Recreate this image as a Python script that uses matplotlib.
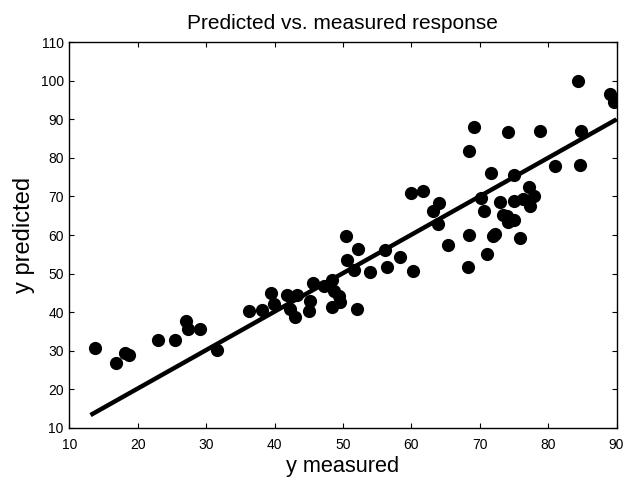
import matplotlib
matplotlib.use("Agg")
import matplotlib.pyplot as plt
import numpy as np

plt.rcParams['font.family'] = ['Liberation Sans', 'DejaVu Sans']

y_measured = [13.7, 16.9, 18.2, 18.7, 22.9, 25.5, 27.0, 27.4, 29.1, 31.6,
              36.2, 38.1, 39.5, 39.9, 41.8, 43.3, 42.3, 43.0, 45.0, 45.2,
              45.7, 47.2, 48.4, 48.7, 49.4, 49.6, 48.4, 50.5, 52.2, 50.6,
              51.6, 54.0, 52.1, 56.1, 56.4, 58.4, 60.3,
              60.0, 61.7, 63.9, 63.2, 64.0, 65.4, 68.3, 68.5, 68.4, 69.1,
              70.2, 70.6, 71.0, 71.7, 72.3, 72.0, 73.0, 73.4, 74.1, 74.0,
              74.2, 75.0, 75.0, 75.0, 75.9, 76.4, 77.2, 77.9, 77.4, 78.8,
              81.0, 84.4, 84.8, 84.7, 89.0, 89.6]
y_predicted = [30.7, 26.8, 29.5, 29.0, 32.9, 32.9, 37.7, 35.5, 35.5, 30.3,
               40.4, 40.6, 45.0, 42.2, 44.5, 44.5, 40.9, 38.7, 40.2, 43.0,
               47.5, 46.9, 48.4, 45.6, 44.3, 42.6, 41.3, 59.7, 56.4, 53.6,
               51.0, 50.4, 40.7, 56.2, 51.8, 54.4, 50.8,
               70.8, 71.3, 62.9, 66.2, 68.3, 57.5, 51.7, 60.1, 81.9, 87.9,
               69.5, 66.3, 55.1, 76.2, 60.4, 59.7, 68.5, 65.2, 86.8, 65.0,
               63.3, 64.0, 68.9, 75.6, 59.3, 69.4, 72.4, 70.2, 67.6, 87.1,
               78.0, 100.0, 87.1, 78.3, 96.6, 94.6]

fit_x = [13.1, 90.0]
fit_y = [13.3, 90.0]

x_ticks = [10, 20, 30, 40, 50, 60, 70, 80, 90]
y_ticks = [10, 20, 30, 40, 50, 60, 70, 80, 90, 100, 110]

fig = plt.figure(figsize=(6.24, 4.79), dpi=100)
ax = fig.add_axes([69.3/624, (479-427.8)/479, (616.5-69.3)/624, (427.8-42.3)/479])

ax.plot(y_measured, y_predicted, 'o', color='black', markersize=9.5, markeredgewidth=0)
ax.plot(fit_x, fit_y, '-', color='black', linewidth=3.2, solid_capstyle='butt')

ax.set_xlim(10, 90)
ax.set_ylim(10, 110)
ax.set_xticks(x_ticks)
ax.set_yticks(y_ticks)
ax.tick_params(direction='in', top=True, right=True, length=3.5, width=0.8,
               labelsize=10)
ax.tick_params(axis='x', pad=7.5)
ax.tick_params(axis='y', pad=4)
for s in ax.spines.values():
    s.set_linewidth(1.0)

ax.set_title('Predicted vs. measured response', fontsize=15, pad=9.5)
ax.set_xlabel('y measured', fontsize=15.7, labelpad=3)
ax.set_ylabel('y predicted', fontsize=17, labelpad=4)

fig.savefig('out.png', dpi=100)
